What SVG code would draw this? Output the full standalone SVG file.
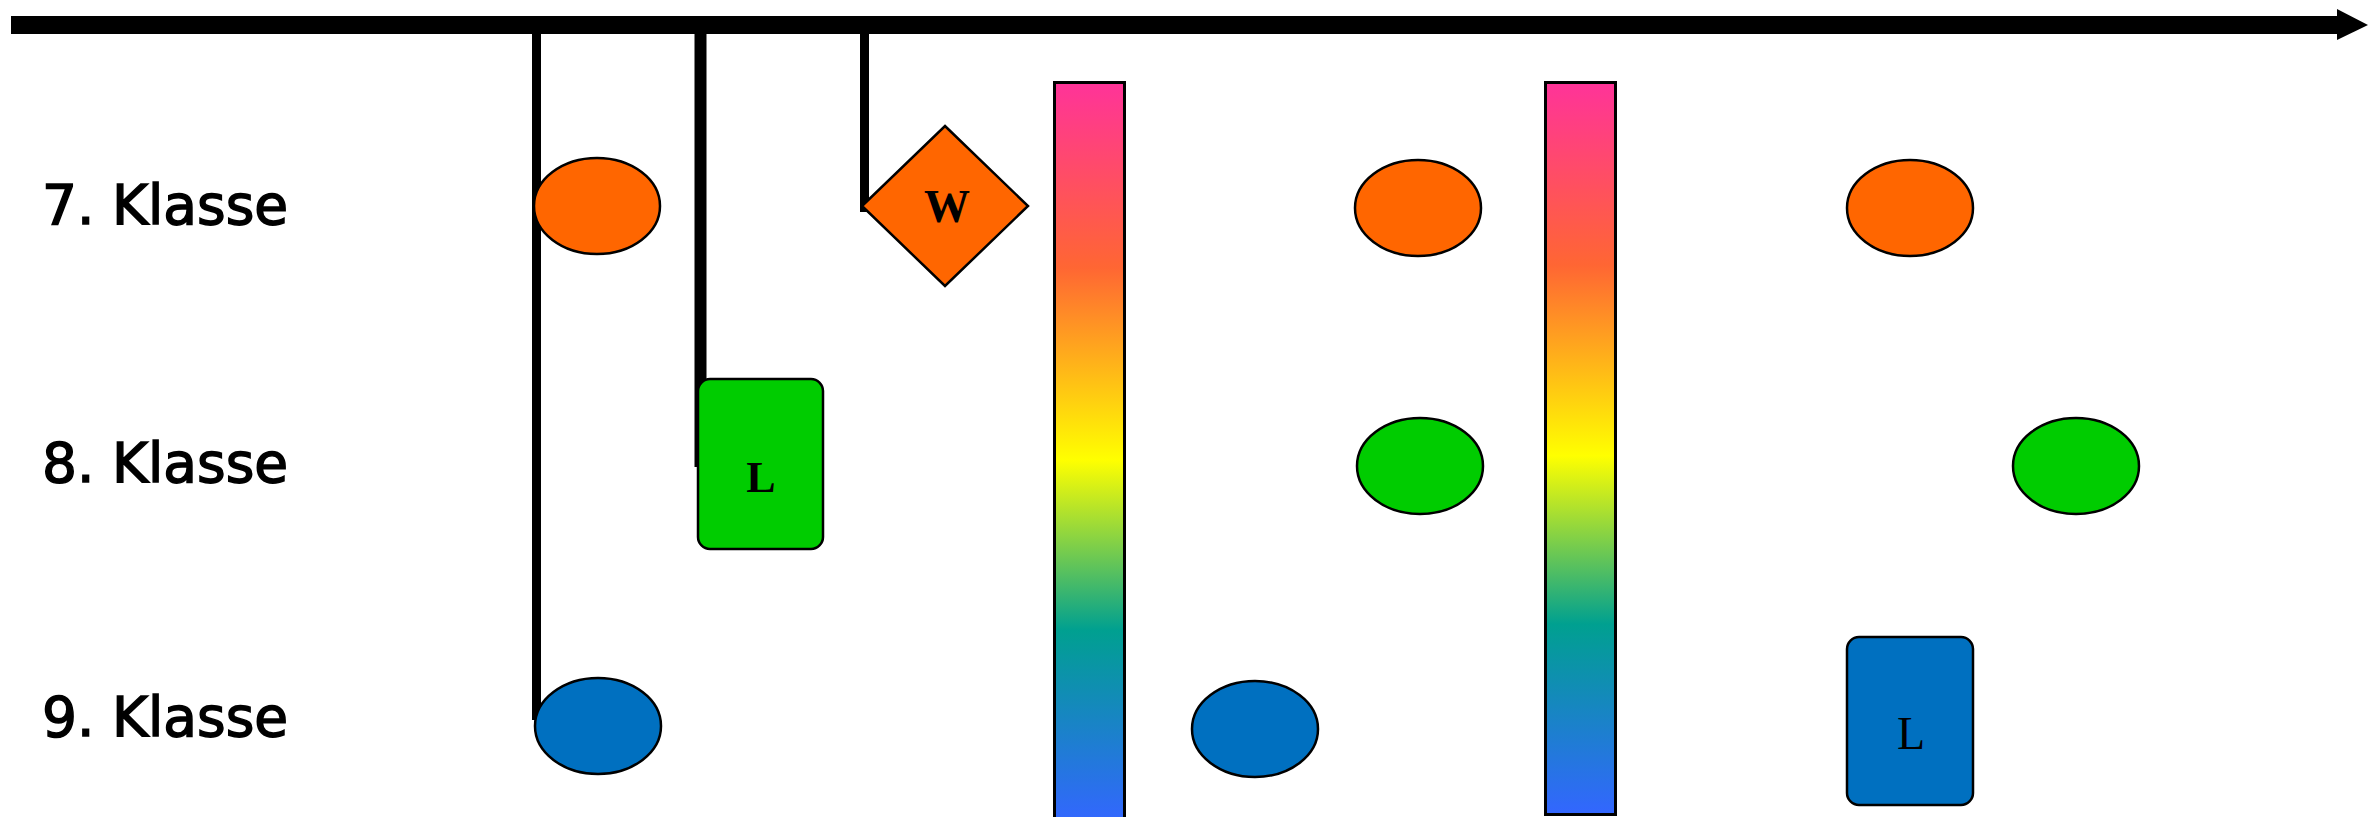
<svg xmlns="http://www.w3.org/2000/svg" width="2375" height="817" viewBox="0 0 2375 817">
<style>
.lbl{font-family:"DejaVu Sans","Verdana",sans-serif;font-size:55px;fill:#000;stroke:#000;stroke-width:1.5}
.nt{font-family:"Liberation Serif","Times New Roman",serif;fill:#000;text-anchor:middle}
.sh{stroke:#000;stroke-width:2.5}
.o{fill:#FF6600}.g{fill:#00CC00}.b{fill:#0070C0}
.bar{stroke:#000;stroke-width:3;fill:url(#rainbow)}
.conn{stroke:#000;fill:none;stroke-linecap:butt}
</style>
<defs>
<linearGradient id="rainbow" x1="0" y1="0" x2="0" y2="1">
<stop offset="0" stop-color="#FF3399"/>
<stop offset="0.25" stop-color="#FF6633"/>
<stop offset="0.51" stop-color="#FFFF00"/>
<stop offset="0.74" stop-color="#00A090"/>
<stop offset="1" stop-color="#3366FF"/>
</linearGradient>
</defs>
<rect width="2375" height="817" fill="#fff"/>
<g id="labels">
<text class="lbl" x="42" y="224">7. Klasse</text>
<text class="lbl" x="42" y="482">8. Klasse</text>
<text class="lbl" x="42" y="736">9. Klasse</text>
</g>
<g id="connectors">
<line class="conn" x1="11" y1="25" x2="2340" y2="25" stroke-width="18"/>
<polygon points="2337,9 2368,25 2337,40" fill="#000"/>
<line class="conn" x1="536.5" y1="25" x2="536.5" y2="720" stroke-width="9"/>
<line class="conn" x1="700.5" y1="25" x2="700.5" y2="467" stroke-width="12"/>
<line class="conn" x1="864.5" y1="25" x2="864.5" y2="212" stroke-width="9"/>
</g>
<g id="bar1"><rect class="bar" x="1054.5" y="82.5" width="70" height="740"/></g>
<g id="bar2"><rect class="bar" x="1545.5" y="82.5" width="70" height="732"/></g>
<g id="n7a"><ellipse class="sh o" cx="597" cy="206" rx="63" ry="48"/></g>
<g id="n9a"><ellipse class="sh b" cx="598" cy="726" rx="63" ry="48"/></g>
<g id="n8a"><rect class="sh g" x="698" y="379" width="125" height="170" rx="12"/><text class="nt" x="761" y="492" font-size="44" font-weight="bold">L</text></g>
<g id="n7w"><polygon class="sh o" points="945,126 1028,206 945,286 862,206"/><text class="nt" x="947" y="222" font-size="46" font-weight="bold">W</text></g>
<g id="n7b"><ellipse class="sh o" cx="1418" cy="208" rx="63" ry="48"/></g>
<g id="n8b"><ellipse class="sh g" cx="1420" cy="466" rx="63" ry="48"/></g>
<g id="n9b"><ellipse class="sh b" cx="1255" cy="729" rx="63" ry="48"/></g>
<g id="n7c"><ellipse class="sh o" cx="1910" cy="208" rx="63" ry="48"/></g>
<g id="n8c"><ellipse class="sh g" cx="2076" cy="466" rx="63" ry="48"/></g>
<g id="n9c"><rect class="sh b" x="1847" y="637" width="126" height="168" rx="12"/><text class="nt" x="1911" y="749" font-size="46">L</text></g>
</svg>
